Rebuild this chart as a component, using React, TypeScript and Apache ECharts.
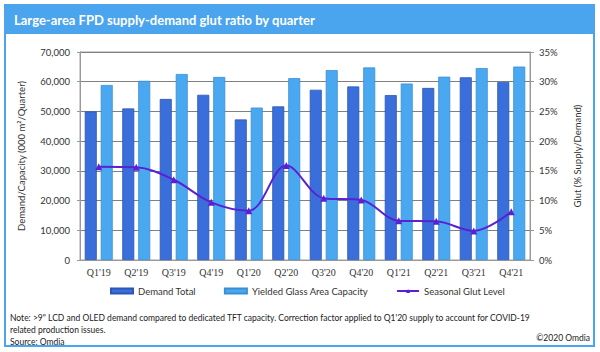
import React, { useEffect, useRef } from "react";
import * as echarts from "echarts";

const categories = ["Q1'19", "Q2'19", "Q3'19", "Q4'19", "Q1'20", "Q2'20", "Q3'20", "Q4'20", "Q1'21", "Q2'21", "Q3'21", "Q4'21"];
const demandTotal = [50000, 51000, 54200, 55600, 47300, 51700, 57300, 58400, 55500, 57900, 61500, 59900];
const capacity = [58900, 60300, 62600, 61600, 51300, 61200, 63900, 64800, 59400, 61700, 64600, 65100];
const glut = [15.7, 15.6, 13.5, 9.7, 8.3, 15.9, 10.4, 10.1, 6.6, 6.5, 4.9, 8.1];

const titleText = "Large-area FPD supply-demand glut ratio by quarter";
const noteLines = [
  "Note: >9\" LCD and OLED demand compared to dedicated TFT capacity. Correction factor applied to Q1'20 supply to account for COVID-19",
  "related production issues.",
  "Source: Omdia",
];
const copyrightText = "©2020 Omdia";

const FONT = "Lato, 'Open Sans', sans-serif";
const FRAME = "#4ba4ee";

export default function App() {
  const ref = useRef<HTMLDivElement>(null);
  useEffect(() => {
    document.body.style.margin = "0";
    if (!ref.current) return;
    const chart = echarts.init(ref.current, null, { renderer: "svg" });
    chart.setOption({
      animation: false,
      backgroundColor: "#ffffff",
      textStyle: { fontFamily: FONT },
      grid: { left: 80, right: 70, top: 52, bottom: 92, show: true, borderColor: "#a0a0a0", borderWidth: 1 },
      graphic: [
        { type: "rect", shape: { x: 5, y: 5, width: 589, height: 341 }, style: { fill: "none", stroke: FRAME, lineWidth: 2 }, z: 10 },
        { type: "rect", shape: { x: 5, y: 5, width: 589, height: 29 }, style: { fill: FRAME }, z: 10 },
        { type: "text", x: 14, y: 20, style: { text: titleText, fill: "#ffffff", font: `bold 13px ${FONT}`, verticalAlign: "middle" }, z: 11 },
        ...noteLines.map((t, i) => ({
          type: "text", x: 10, y: 318 + i * 12,
          style: { text: t, fill: "#222222", font: `8.5px ${FONT}`, verticalAlign: "middle" }, z: 11,
        })),
        { type: "text", x: 590, y: 338, style: { text: copyrightText, fill: "#222222", font: `8.5px ${FONT}`, align: "right", verticalAlign: "middle" }, z: 11 },
      ],
      legend: {
        bottom: 51,
        left: 105,
        itemGap: 28,
        itemWidth: 22,
        itemHeight: 5,
        textStyle: { fontSize: 9.5, color: "#333", fontFamily: FONT },
        data: [
          { name: "Demand Total", icon: "rect" },
          { name: "Yielded Glass Area Capacity", icon: "rect" },
          { name: "Seasonal Glut Level" },
        ],
      },
      xAxis: {
        type: "category",
        data: categories,
        axisLine: { lineStyle: { color: "#999" } },
        axisTick: { show: false },
        axisLabel: { interval: 0, fontSize: 10, color: "#333", margin: 7, fontFamily: "'Liberation Serif', serif" },
      },
      yAxis: [
        {
          type: "value",
          min: 0,
          max: 70000,
          interval: 10000,
          name: "Demand/Capacity (000 m²/Quarter)",
          nameLocation: "middle",
          nameGap: 54,
          nameTextStyle: { fontSize: 9.5, color: "#333" },
          axisLine: { show: true, lineStyle: { color: "#999" } },
          axisTick: { show: true, length: 3, lineStyle: { color: "#999" } },
          splitLine: { lineStyle: { color: "#808080" } },
          axisLabel: {
            fontSize: 9.5,
            color: "#333",
            margin: 10,
            formatter: (v: number) => v.toLocaleString("en-US"),
          },
        },
        {
          type: "value",
          min: 0,
          max: 35,
          interval: 5,
          position: "right",
          name: "Glut (% Supply/Demand)",
          nameLocation: "middle",
          nameGap: 42,
          nameRotate: 90,
          nameTextStyle: { fontSize: 9.5, color: "#333" },
          axisLine: { show: true, lineStyle: { color: "#999" } },
          axisTick: { show: true, length: 4, lineStyle: { color: "#999" } },
          splitLine: { show: false },
          axisLabel: { fontSize: 9.5, color: "#333", margin: 9, formatter: (v: number) => `${v}%` },
        },
      ],
      series: [
        {
          name: "Demand Total",
          type: "bar",
          data: demandTotal,
          barWidth: 12,
          barGap: "33%",
          itemStyle: { color: "#3a6fdb", borderColor: "#2b57b5", borderWidth: 0.8 },
        },
        {
          name: "Yielded Glass Area Capacity",
          type: "bar",
          data: capacity,
          barWidth: 12,
          itemStyle: { color: "#4aa8f1", borderColor: "#3a8ed4", borderWidth: 0.8 },
        },
        {
          name: "Seasonal Glut Level",
          type: "line",
          yAxisIndex: 1,
          data: glut,
          smooth: 0.35,
          symbol: "triangle",
          symbolSize: 7,
          lineStyle: { color: "#5a20d4", width: 2 },
          itemStyle: { color: "#5a20d4" },
          z: 5,
        },
      ],
    });
    return () => chart.dispose();
  }, []);
  return <div ref={ref} style={{ width: 600, height: 352 }} />;
}
